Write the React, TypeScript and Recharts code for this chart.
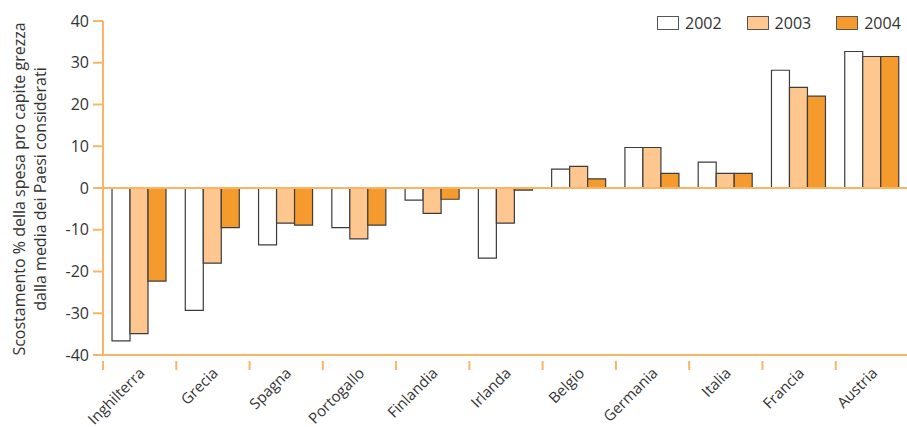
import { Bar, BarChart, ReferenceLine, XAxis, YAxis } from "recharts"

const countries = ["Inghilterra", "Grecia", "Spagna", "Portogallo", "Finlandia", "Irlanda", "Belgio", "Germania", "Italia", "Francia", "Austria"]
const v2002 = [-36.6, -29.3, -13.6, -9.5, -2.9, -16.8, 4.5, 9.7, 6.2, 28.2, 32.7]
const v2003 = [-34.9, -18.0, -8.4, -12.2, -6.1, -8.4, 5.2, 9.7, 3.5, 24.1, 31.5]
const v2004 = [-22.3, -9.5, -8.9, -8.9, -2.7, -0.5, 2.2, 3.5, 3.5, 22.0, 31.5]
const yTicks = [-40, -30, -20, -10, 0, 10, 20, 30, 40]

const series = [
    { key: "y2002", name: "2002", fill: "#ffffff" },
    { key: "y2003", name: "2003", fill: "#fdc78f" },
    { key: "y2004", name: "2004", fill: "#f59b2e" },
]

const data = countries.map((c, i) => ({ name: c, y2002: v2002[i], y2003: v2003[i], y2004: v2004[i] }))

const FONT = "'Open Sans', sans-serif"
const AXIS = "#f9b466"
const TEXT = "#333333"

const CountryTick = (props: any) => {
    const { x, y, payload } = props
    const half = 806 / 11 / 2
    return (
        <g>
            <line x1={x - half} x2={x - half} y1={y - 2} y2={y + 7} stroke={AXIS} strokeWidth={2} />
            <text x={x + 6} y={y + 11} transform={`rotate(-45, ${x + 6}, ${y + 11})`} textAnchor="end" fontSize={15} fill={TEXT} fontFamily={FONT}>
                {payload.value}
            </text>
        </g>
    )
}

const AxisTitle = () => (
    <g fontFamily={FONT} fontSize={16} fill={TEXT}>
        <text x={25} y={189} transform="rotate(-90, 25, 189)" textAnchor="middle">Scostamento % della spesa pro capite grezza</text>
        <text x={46} y={189} transform="rotate(-90, 46, 189)" textAnchor="middle">dalla media dei Paesi considerati</text>
    </g>
)

const LegendBox = () => (
    <div style={{ position: "absolute", left: 657, top: 12, display: "flex", fontFamily: FONT, fontSize: 16, color: TEXT }}>
        {series.map((s) => (
            <div key={s.key} style={{ display: "flex", alignItems: "center", marginRight: 25 }}>
                <span style={{ width: 20, height: 12, background: s.fill, border: "1px solid #555", marginRight: 6 }} />
                {s.name}
            </div>
        ))}
    </div>
)

export default function App() {
    return (
        <div style={{ position: "absolute", left: 0, top: 0, width: 907, height: 427, overflow: "hidden", background: "#fff" }}>
            <BarChart data={data} width={909} height={427} margin={{ top: 21, right: 0, left: 0, bottom: 0 }} barGap={0} barCategoryGap="12.3%">
                <XAxis dataKey="name" axisLine={{ stroke: AXIS, strokeWidth: 2 }} tickLine={false} tick={<CountryTick />} interval={0} height={72} />
                <YAxis domain={[-40, 40]} ticks={yTicks} width={103} axisLine={{ stroke: AXIS, strokeWidth: 2 }} tickLine={{ stroke: AXIS, strokeWidth: 2 }} tickSize={10} tickMargin={4}
                    tick={{ fill: TEXT, fontSize: 16, fontFamily: FONT }} label={<AxisTitle />} />
                <ReferenceLine y={0} stroke={AXIS} strokeWidth={2} />
                {series.map((s) => (
                    <Bar key={s.key} dataKey={s.key} name={s.name} fill={s.fill} stroke="#3c3c3c" strokeWidth={1.2} isAnimationActive={false} />
                ))}
            </BarChart>
            <LegendBox />
        </div>
    )
}
